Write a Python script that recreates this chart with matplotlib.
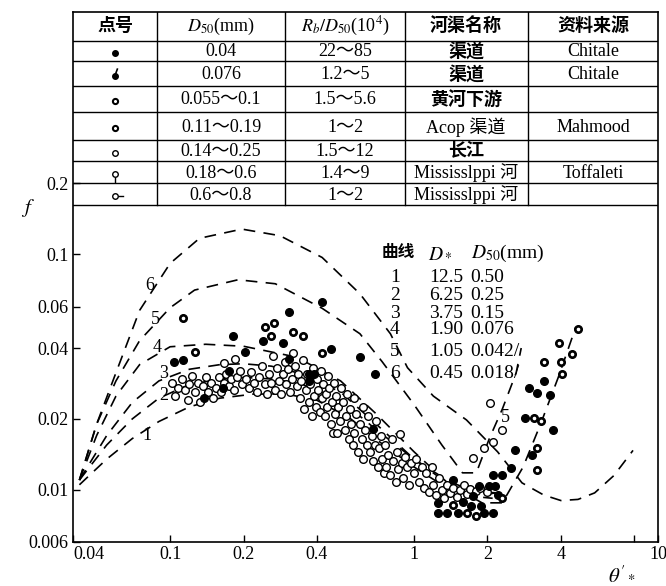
import matplotlib.pyplot as plt

plt.rcParams['font.family'] = ['Liberation Serif', 'Noto Sans CJK SC']
plt.rcParams['mathtext.fontset'] = 'stix'

# ---- data ----
# dashed curves 1..6, (theta', f)
c1_x = [0.0425, 0.055, 0.07, 0.09, 0.12, 0.16, 0.22, 0.3, 0.4, 0.55, 0.75, 1.0, 1.3, 1.7, 2.1]
c1_y = [0.0105, 0.0135, 0.0165, 0.0195, 0.0225, 0.0245, 0.0255, 0.0255, 0.024, 0.020, 0.0155, 0.0125, 0.0105, 0.0094, 0.0092]
c2_x = [0.0425, 0.055, 0.07, 0.09, 0.12, 0.16, 0.2, 0.27, 0.35, 0.5, 0.7, 1.0, 1.4, 1.8, 2.2]
c2_y = [0.011, 0.0155, 0.020, 0.0245, 0.028, 0.0295, 0.030, 0.0295, 0.028, 0.024, 0.018, 0.0135, 0.0108, 0.0098, 0.0097]
c3_x = [0.0425, 0.055, 0.07, 0.09, 0.12, 0.16, 0.2, 0.26, 0.35, 0.5, 0.7, 1.0, 1.4, 1.9, 2.3]
c3_y = [0.011, 0.017, 0.0235, 0.029, 0.0325, 0.034, 0.0343, 0.0335, 0.031, 0.026, 0.019, 0.0135, 0.0105, 0.0095, 0.0098]
c4_x = [0.0425, 0.05, 0.06, 0.075, 0.1, 0.14, 0.2, 0.33, 0.5, 0.7, 1.0, 1.4, 1.9, 2.3, 2.8, 3.3, 3.9, 4.6]
c4_y = [0.011, 0.017, 0.025, 0.034, 0.0405, 0.0415, 0.0407, 0.0366, 0.029, 0.021, 0.0145, 0.0105, 0.0088, 0.0088, 0.0125, 0.019, 0.030, 0.049]
c5_x = [0.0425, 0.05, 0.06, 0.075, 0.1, 0.126, 0.19, 0.27, 0.42, 0.6, 0.74, 1.0, 1.3, 1.58, 1.8, 2.04, 2.3, 2.62, 2.75]
c5_y = [0.011, 0.019, 0.029, 0.043, 0.0593, 0.0705, 0.078, 0.075, 0.059, 0.046, 0.035, 0.023, 0.0155, 0.0118, 0.0118, 0.0166, 0.022, 0.0313, 0.040]
c6_x = [0.0425, 0.05, 0.059, 0.075, 0.1, 0.132, 0.197, 0.282, 0.42, 0.6, 0.8, 0.94, 1.2, 1.64, 2.2, 2.77, 3.4, 4.0, 4.7, 5.5, 6.6, 7.9]
c6_y = [0.011, 0.019, 0.030, 0.0578, 0.0915, 0.117, 0.128, 0.120, 0.097, 0.068, 0.046, 0.033, 0.025, 0.0198, 0.0145, 0.0107, 0.0095, 0.0090, 0.0091, 0.0097, 0.0115, 0.0147]

# open circles (长江, Mississippi)
open_x = [0.102, 0.105, 0.108, 0.112, 0.115, 0.118, 0.12, 0.123, 0.127, 0.13, 0.133, 0.136, 0.14, 0.143,
          0.147, 0.15, 0.154, 0.158, 0.162, 0.166, 0.17, 0.174, 0.178, 0.183, 0.188, 0.193, 0.198,
          0.167, 0.185,
          0.205, 0.21, 0.215, 0.22, 0.227, 0.232, 0.238, 0.245, 0.25, 0.255, 0.26, 0.265, 0.27, 0.275,
          0.28, 0.285, 0.29, 0.295, 0.3, 0.305, 0.31, 0.315, 0.32, 0.325, 0.33, 0.335, 0.34, 0.345, 0.35,
          0.355, 0.36, 0.365, 0.37, 0.375, 0.38, 0.385, 0.39, 0.395, 0.4, 0.405, 0.41, 0.415, 0.42, 0.425,
          0.43, 0.435, 0.44, 0.445, 0.45, 0.455, 0.46, 0.465, 0.47, 0.475, 0.48, 0.485, 0.49, 0.495, 0.5,
          0.51, 0.52, 0.525, 0.53, 0.54, 0.545, 0.55, 0.56, 0.565, 0.57, 0.58, 0.59, 0.6, 0.61, 0.615,
          0.62, 0.63, 0.64, 0.65, 0.66, 0.67, 0.68, 0.69, 0.7, 0.71, 0.72, 0.73, 0.74, 0.75,
          0.76, 0.77, 0.78, 0.8, 0.81, 0.82, 0.84, 0.85, 0.86, 0.88, 0.89, 0.9, 0.92, 0.94, 0.95, 0.97,
          1.0, 1.02, 1.05, 1.08, 1.1,
          1.12, 1.15, 1.18, 1.2, 1.23, 1.26, 1.3, 1.33, 1.36, 1.4, 1.45, 1.5, 1.55, 1.6, 1.65, 1.7, 1.8,
          1.87, 2.0, 1.75, 1.93, 2.1, 2.3, 2.04]
open_y = [0.0285, 0.025, 0.027, 0.0295, 0.0265, 0.024, 0.028, 0.0305, 0.026, 0.0285, 0.0235, 0.0275, 0.030, 0.026,
          0.0285, 0.0245, 0.027, 0.030, 0.026, 0.0285, 0.031, 0.0275, 0.0295, 0.0265, 0.030, 0.032, 0.028,
          0.0347, 0.036,
          0.0295, 0.027, 0.0315, 0.0285, 0.026, 0.030, 0.0335, 0.028, 0.0255, 0.031, 0.0285, 0.037, 0.0265, 0.033,
          0.029, 0.0255, 0.031, 0.035, 0.028, 0.0325, 0.026, 0.0295, 0.038, 0.0335, 0.0275, 0.031, 0.0245, 0.029, 0.0355,
          0.022, 0.0265, 0.031, 0.0235, 0.028, 0.0205, 0.033, 0.025, 0.0225, 0.0295, 0.0265, 0.0215, 0.032, 0.0245, 0.028,
          0.0205, 0.0255, 0.0225, 0.0305, 0.027, 0.019, 0.0235, 0.0175, 0.0285, 0.021, 0.025, 0.0175, 0.0225, 0.0195, 0.027,
          0.0235, 0.018, 0.0205, 0.0255, 0.0165, 0.022, 0.019, 0.0155, 0.0245, 0.0175, 0.021, 0.0145, 0.019, 0.0165, 0.0225,
          0.0135, 0.018, 0.0155, 0.0205, 0.0145, 0.017, 0.0132, 0.0155, 0.0195, 0.0125, 0.015, 0.017, 0.0135, 0.0118,
          0.0155, 0.0125, 0.014, 0.0115, 0.0165, 0.0132, 0.0108, 0.0145, 0.0122, 0.0172, 0.013, 0.0112, 0.0138, 0.0125, 0.0105, 0.013,
          0.0118, 0.0135, 0.0108, 0.0125, 0.0102,
          0.0118, 0.0098, 0.0125, 0.0105, 0.0095, 0.0112, 0.0100, 0.0092, 0.0105, 0.0097, 0.0102, 0.0093, 0.0100, 0.0105, 0.0096, 0.0101, 0.0099,
          0.0102, 0.0098, 0.0136, 0.0150, 0.0160, 0.018, 0.0233]

# filled dots (Chitale channels)
fill_x = [0.104, 0.113, 0.138, 0.165, 0.174, 0.181, 0.202, 0.24, 0.29, 0.306, 0.306, 0.37, 0.39, 0.37,
          0.42, 0.455, 0.6, 0.69, 0.68,
          1.25, 1.25, 1.37, 1.52, 1.45, 1.58, 1.72, 1.75, 1.88, 1.93, 2.1, 1.85, 2.03, 2.15, 2.1, 2.3,
          2.2, 2.5, 2.6, 2.85, 2.95, 3.2, 3.4, 3.6, 3.7, 3.05]
fill_y = [0.035, 0.0357, 0.0246, 0.027, 0.032, 0.045, 0.0386, 0.043, 0.042, 0.057, 0.036, 0.031, 0.031, 0.029,
          0.0627, 0.0395, 0.0367, 0.031, 0.0182,
          0.0088, 0.0080, 0.0080, 0.0080, 0.0110, 0.0089, 0.0085, 0.0094, 0.0085, 0.0080, 0.0080, 0.0104, 0.0104, 0.0104, 0.0115, 0.0115,
          0.0095, 0.0124, 0.0147, 0.0201, 0.027, 0.0257, 0.029, 0.0252, 0.018, 0.0140]

# dotted circles (黄河下游, Acop)
dot_x = [0.113, 0.126, 0.246, 0.266, 0.26, 0.318, 0.35, 0.42, 3.4, 3.93, 4.7, 4.45, 4.0, 4.05,
         3.1, 3.3, 3.2, 3.2, 2.3, 1.65, 1.45, 1.8]
dot_y = [0.0535, 0.0386, 0.0491, 0.051, 0.045, 0.047, 0.045, 0.038, 0.0348, 0.042, 0.048, 0.0378, 0.0348, 0.031,
         0.0201, 0.0196, 0.0151, 0.0121, 0.0092, 0.0080, 0.0086, 0.0077]

# legend of the curves
curve_no = ['1', '2', '3', '4', '5', '6']
d_star = ['12.5', '6.25', '3.75', '1.90', '1.05', '0.45']
d50_curve = ['0.50', '0.25', '0.15', '0.076', '0.042/', '0.018/']

# table
col_heads = ['点号', '$D_{50}$(mm)', '$R_b/D_{50}$(10$^4$)', '河渠名称', '资料来源']
tab_d50 = ['0.04', '0.076', '0.055～0.1', '0.11～0.19', '0.14～0.25', '0.18～0.6', '0.6～0.8']
tab_rd = ['22～85', '1.2～5', '1.5～5.6', '1～2', '1.5～12', '1.4～9', '1～2']
tab_name = ['渠道', '渠道', '黄河下游', 'Acop 渠道', '长江', 'Mississlppi 河', 'Mississlppi 河']
tab_src = ['Chitale', 'Chitale', '', 'Mahmood', '', 'Toffaleti', '']

W, H = 666, 586
fig = plt.figure(figsize=(W / 100, H / 100), dpi=100)
L, R, T, B = 73, 658, 12, 542
ax = fig.add_axes([L / W, (H - B) / H, (R - L) / W, (B - T) / H])
ax.set_xscale('log')
ax.set_yscale('log')
ax.set_xlim(0.04, 10)
ax.set_ylim(0.006, 1.07)


def fx(px):
    return (px - L) / (R - L)


def fy(py):
    return (B - py) / (B - T)


# curves
for cx, cy in [(c1_x, c1_y), (c2_x, c2_y), (c3_x, c3_y), (c4_x, c4_y), (c5_x, c5_y), (c6_x, c6_y)]:
    ax.plot(cx, cy, color='black', lw=1.2, dashes=(7, 5))

# points
ax.plot(open_x, open_y, 'o', ms=5.5, mfc='white', mec='black', mew=1.0)
ax.plot(fill_x, fill_y, 'o', ms=5.5, mfc='black', mec='black')
ax.plot(dot_x, dot_y, 'o', ms=5.5, mfc='black', mec='black')
ax.plot(dot_x, dot_y, 'o', ms=1.6, mfc='white', mec='white')

# curve labels
for lab, px, py in [('6', 150, 285), ('5', 155, 320), ('4', 157, 347), ('3', 164, 373),
                    ('2', 164, 395), ('1', 147, 435), ('5', 505, 417)]:
    ax.text(fx(px), fy(py), lab, transform=ax.transAxes, fontsize=13, ha='center', va='center')

# legend block
ax.text(fx(382), fy(253), '曲线', transform=ax.transAxes, fontsize=12, weight='bold', ha='left', va='center')
ax.text(fx(428), fy(253), '$D_*$', transform=ax.transAxes, fontsize=14, ha='left', va='center')
ax.text(fx(471), fy(253), '$D_{50}$(mm)', transform=ax.transAxes, fontsize=14, ha='left', va='center')
leg_y = [277, 295, 313, 330, 352, 373]
for n, ds, dd, py in zip(curve_no, d_star, d50_curve, leg_y):
    ax.text(fx(395), fy(py), n, transform=ax.transAxes, fontsize=14, ha='center', va='center')
    ax.text(fx(429), fy(py), ds, transform=ax.transAxes, fontsize=14, ha='left', va='center')
    ax.text(fx(470), fy(py), dd, transform=ax.transAxes, fontsize=14, ha='left', va='center')

# table
row_lines = [41, 61, 86, 112, 140, 161, 183, 205]
for py in row_lines:
    ax.plot([0, 1], [fy(py), fy(py)], transform=ax.transAxes, color='black', lw=1.0)
col_lines = [157, 285, 405, 528]
for px in col_lines:
    ax.plot([fx(px), fx(px)], [fy(205), 1], transform=ax.transAxes, color='black', lw=1.0)

row_edges = [T] + row_lines
col_cent = [115, 221, 345, 466, 593]
for j, h in enumerate(col_heads):
    wt = 'bold' if j in (0, 3, 4) else 'normal'
    ax.text(fx(col_cent[j]), fy((row_edges[0] + row_edges[1]) / 2), h, transform=ax.transAxes,
            fontsize=13, weight=wt, ha='center', va='center')
for i in range(7):
    yc = fy((row_edges[i + 1] + row_edges[i + 2]) / 2 + 1)
    for j, val in enumerate([tab_d50[i], tab_rd[i], tab_name[i], tab_src[i]]):
        wt = 'bold' if (j == 2 and val.isascii() is False and ' ' not in val) else 'normal'
        ax.text(fx(col_cent[j + 1]), yc, val, transform=ax.transAxes, fontsize=13, weight=wt,
                ha='center', va='center')

# table symbols
sym_y = [fy((row_edges[i + 1] + row_edges[i + 2]) / 2 + 2) for i in range(7)]
sx = fx(115)
ax.plot(sx, sym_y[0], 'o', ms=4, mfc='black', mec='black', transform=ax.transAxes)
ax.plot(sx, sym_y[1], 'o', ms=4, mfc='black', mec='black', transform=ax.transAxes)
ax.plot([sx, sx + 0.004], [sym_y[1], sym_y[1] + 0.012], color='black', lw=1.2, transform=ax.transAxes)
ax.plot(sx, sym_y[2], 'o', ms=4.2, mfc='black', mec='black', transform=ax.transAxes)
ax.plot(sx, sym_y[2], 'o', ms=1.2, mfc='white', mec='white', transform=ax.transAxes)
ax.plot(sx, sym_y[3], 'o', ms=4.2, mfc='black', mec='black', transform=ax.transAxes)
ax.plot(sx, sym_y[3], 'o', ms=1.2, mfc='white', mec='white', transform=ax.transAxes)
ax.plot(sx, sym_y[4], 'o', ms=4, mfc='white', mec='black', mew=1.0, transform=ax.transAxes)
ax.plot(sx, sym_y[5], 'o', ms=4, mfc='white', mec='black', mew=1.0, transform=ax.transAxes)
ax.plot([sx, sx], [sym_y[5] - 0.008, sym_y[5] - 0.016], color='black', lw=1.0, transform=ax.transAxes)
ax.plot(sx, sym_y[6], 'o', ms=4, mfc='white', mec='black', mew=1.0, transform=ax.transAxes)
ax.plot([sx + 0.006, sx + 0.013], [sym_y[6], sym_y[6]], color='black', lw=1.0, transform=ax.transAxes)

# axes ticks
xt = [0.04, 0.1, 0.2, 0.4, 1, 2, 4, 8, 10]
xl = ['0.04', '0.1', '0.2', '0.4', '1', '2', '4', '', '10']
ax.set_xticks(xt)
ax.set_xticklabels(xl)
yt = [0.006, 0.01, 0.02, 0.04, 0.06, 0.1, 0.2]
ax.set_yticks(yt)
ax.set_yticklabels(['0.006', '0.01', '0.02', '0.04', '0.06', '0.1', '0.2'])
ax.minorticks_off()
ax.tick_params(direction='in', length=5, width=1, labelsize=13, pad=3)
ax.get_xticklabels()[0].set_horizontalalignment('left')
for s in ax.spines.values():
    s.set_linewidth(1.2)

fig.text(28 / W, 1 - 208 / H, '$f$', fontsize=15, ha='center', va='center')
fig.text(622 / W, 1 - 575 / H, r"$\theta'_*$", fontsize=15, ha='center', va='center')

fig.savefig('out.png', dpi=100)
